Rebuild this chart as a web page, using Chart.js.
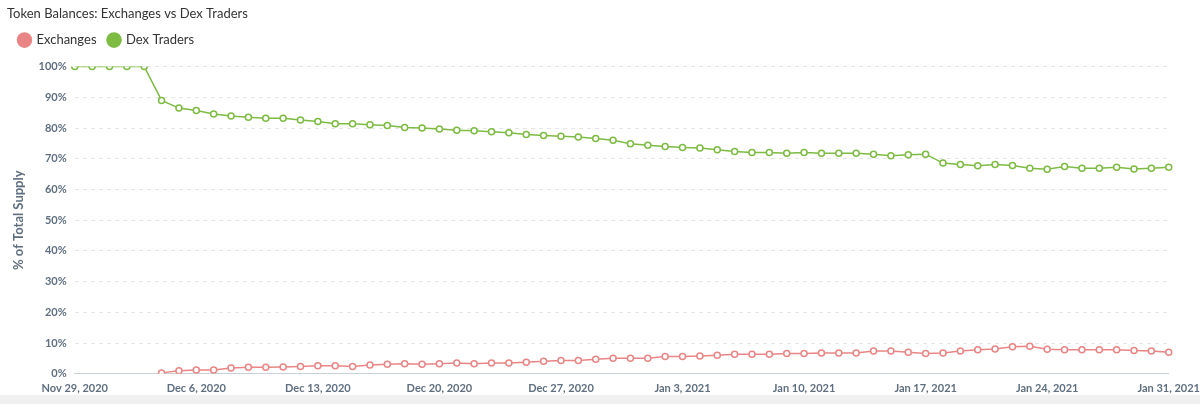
<!DOCTYPE html>
<html>
<head>
<meta charset="utf-8">
<script src="https://cdn.jsdelivr.net/npm/chart.js@4"></script>
<style>
  body { margin: 0; background: #fff; font-family: Lato, sans-serif; }
  #wrap { position: relative; width: 1200px; height: 395px; border-bottom: 9px solid #f0f0f0; }
</style>
</head>
<body>
<div id="wrap"><canvas id="c"></canvas></div>
<script>
// Etichette giornaliere dal 29 nov 2020 al 31 gen 2021
const months = ['Jan','Feb','Mar','Apr','May','Jun','Jul','Aug','Sep','Oct','Nov','Dec'];
const dayLabels = [];
for (let d = new Date(Date.UTC(2020, 10, 29)); d <= new Date(Date.UTC(2021, 0, 31)); d.setUTCDate(d.getUTCDate() + 1)) {
    dayLabels.push(months[d.getUTCMonth()] + ' ' + d.getUTCDate() + ', ' + d.getUTCFullYear());
}

const dexTraders = [
    100, 100, 100, 100, 100, 89, 86.5, 85.7, 84.6, 83.9, 83.5, 83.2, 83.2, 82.6, 82.1,
    81.4, 81.4, 81.1, 80.8, 80.2, 80, 79.7, 79.3, 79.1, 78.8, 78.5, 77.9, 77.6, 77.3, 77.1,
    76.6, 76.0, 74.9, 74.4, 74.0, 73.7, 73.5, 72.9, 72.4, 72.0, 72.0, 71.8, 72.0, 71.8, 71.8,
    71.8, 71.5, 71.0, 71.3, 71.5, 68.6, 68.1, 67.7, 68.1, 67.8, 66.9, 66.6, 67.5, 66.9, 66.9,
    67.2, 66.7, 66.9, 67.2
];
const exchanges = [
    null, null, null, null, null, 0.3, 1.0, 1.2, 1.2, 1.9, 2.1, 2.1, 2.2, 2.4, 2.6,
    2.6, 2.4, 2.9, 3.1, 3.3, 3.1, 3.3, 3.5, 3.3, 3.5, 3.5, 3.8, 4.1, 4.3, 4.3,
    4.7, 5.1, 5.1, 5.1, 5.6, 5.6, 5.8, 6.0, 6.4, 6.4, 6.4, 6.6, 6.6, 6.8, 6.8,
    6.8, 7.4, 7.4, 7.0, 6.6, 6.8, 7.4, 7.8, 8.1, 8.8, 9.0, 8.0, 7.8, 7.8, 7.8,
    7.8, 7.6, 7.4, 7.0
];
const yTicks = [0, 10, 20, 30, 40, 50, 60, 70, 80, 90, 100];

const green = '#7dbb42';
const red = '#e98585';
const tickColor = '#5f6f80';

// Spazio extra sotto la legenda
const legendGap = {
    id: 'legendGap',
    beforeInit(chart) {
        const fit = chart.legend.fit;
        chart.legend.fit = function () {
            fit.bind(chart.legend)();
            this.height += 10;
        };
    }
};

new Chart(document.getElementById('c'), {
    type: 'line',
    data: {
        labels: dayLabels,
        datasets: [
            { label: 'Exchanges', data: exchanges, borderColor: red, backgroundColor: red,
              pointBackgroundColor: '#fff', pointBorderColor: red, borderWidth: 1.5,
              pointRadius: 3, pointBorderWidth: 1.5, tension: 0 },
            { label: 'Dex Traders', data: dexTraders, borderColor: green, backgroundColor: green,
              pointBackgroundColor: '#fff', pointBorderColor: green, borderWidth: 1.5,
              pointRadius: 3, pointBorderWidth: 1.5, tension: 0 }
        ]
    },
    options: {
        responsive: true,
        maintainAspectRatio: false,
        animation: false,
        layout: { padding: { left: 7, right: 11, top: 0, bottom: 0 } },
        plugins: {
            title: { display: true, text: 'Token Balances: Exchanges vs Dex Traders', align: 'start',
                     color: '#333', font: { family: 'Lato', size: 13, weight: 'normal' }, padding: { top: 6, bottom: 0 } },
            legend: {
                align: 'start',
                labels: {
                    usePointStyle: true, pointStyle: 'circle', boxWidth: 11, boxHeight: 11,
                    color: '#333', font: { family: 'Lato', size: 13 }, padding: 12,
                    generateLabels: chart => chart.data.datasets.map((ds, i) => ({
                        text: ds.label, fillStyle: ds.borderColor, strokeStyle: ds.borderColor,
                        pointStyle: 'circle', datasetIndex: i, lineWidth: 0, fontColor: '#333'
                    }))
                }
            },
            tooltip: { enabled: false }
        },
        scales: {
            x: {
                grid: { display: false },
                border: { color: '#c8d0d8' },
                ticks: {
                    autoSkip: false, maxRotation: 0, color: tickColor, padding: 0,
                    font: { family: 'Lato', size: 11, weight: 'bold' },
                    callback: (v, i) => i % 7 === 0 ? dayLabels[i] : ''
                }
            },
            y: {
                min: 0, max: 100,
                afterBuildTicks: axis => { axis.ticks = yTicks.map(v => ({ value: v })); },
                grid: { color: '#e6e6e6', drawTicks: false },
                border: { display: false, dash: [4, 4] },
                ticks: { color: tickColor, padding: 8, font: { family: 'Lato', size: 11, weight: 'bold' },
                         callback: v => v + '%' },
                title: { display: true, text: '% of Total Supply', color: tickColor,
                         font: { family: 'Lato', size: 13, weight: 'bold' } }
            }
        }
    },
    plugins: [legendGap]
});
</script>
</body>
</html>
